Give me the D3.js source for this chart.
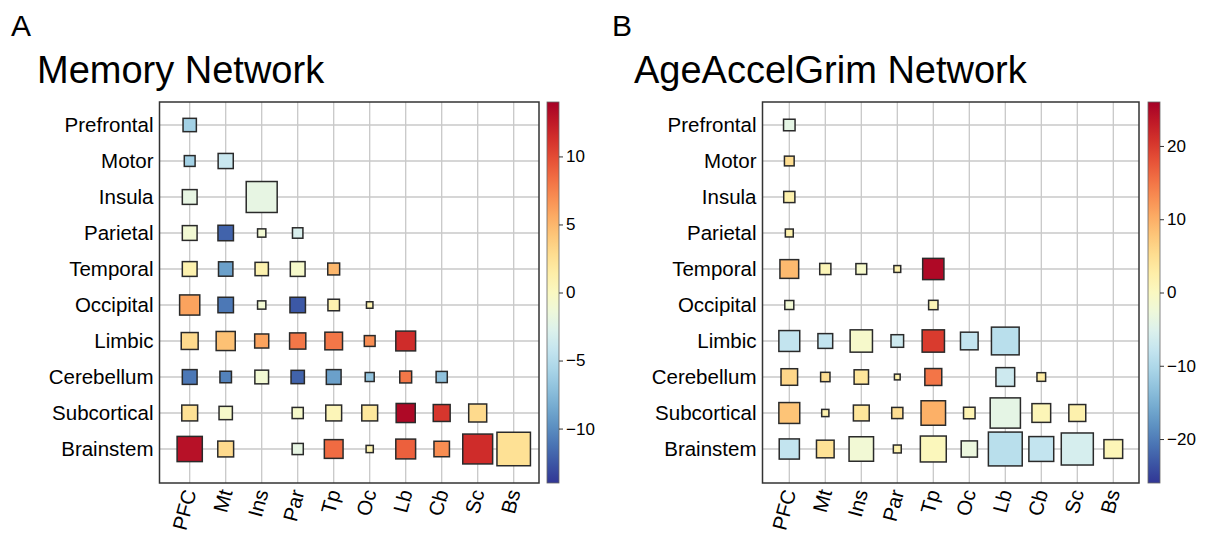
<!DOCTYPE html>
<html>
<head>
<meta charset="utf-8">
<script src="https://cdn.jsdelivr.net/npm/d3@7"></script>
<style>
  body { margin: 0; background: #fff; }
  svg { display: block; font-family: "Liberation Sans", Arial, Helvetica, sans-serif; }
</style>
</head>
<body>
<svg id="chart" width="1209" height="534"></svg>
<script>
// brain regions (rows) and their short names (columns)
var regions = ["Prefrontal", "Motor", "Insula", "Parietal", "Temporal",
               "Occipital", "Limbic", "Cerebellum", "Subcortical", "Brainstem"];
var regionAbbr = ["PFC", "Mt", "Ins", "Par", "Tp", "Oc", "Lb", "Cb", "Sc", "Bs"];

// Memory network: colour value per cell (lower triangle, null = no cell)
var memoryValues = [
  [-6],
  [-6, -4],
  [-2, null, -2],
  [-1, -12, -1, -3],
  [1, -9, 1, -0.5, 5],
  [6, -11, -1, -12.5, 1, 1],
  [3, 4.5, 6, 8, 8, 7, 11.5],
  [-11, -10.5, -1, -12, -9, -7, 8, -7],
  [2.5, -0.5, null, -0.5, 0.5, 2, 13.5, 11, 3],
  [13, 3, null, -2, 8.5, 1, 9, 7, 11.5, 2.5]
];
// Memory network: relative square size per cell
var memorySizes = [
  [0.37],
  [0.30, 0.42],
  [0.41, null, 0.86],
  [0.41, 0.43, 0.23, 0.29],
  [0.41, 0.40, 0.37, 0.41, 0.33],
  [0.56, 0.43, 0.23, 0.43, 0.32, 0.18],
  [0.47, 0.53, 0.39, 0.45, 0.49, 0.30, 0.55],
  [0.41, 0.32, 0.38, 0.37, 0.41, 0.25, 0.33, 0.31],
  [0.44, 0.37, null, 0.31, 0.44, 0.44, 0.53, 0.47, 0.50],
  [0.70, 0.44, null, 0.31, 0.52, 0.20, 0.55, 0.43, 0.83, 0.93]
];
var memoryTicks = [-10, -5, 0, 5, 10];
var memoryLimit = 14;

// AgeAccelGrim network
var grimValues = [
  [-4],
  [5],
  [2],
  [2],
  [9, 1, -1, 2, 25],
  [-2, null, null, null, 1],
  [-8, -8, -1, -7, 20, -8, -9],
  [6, 5, 4, 2, 15, null, -7, 3],
  [8, 2, 4, 5, 10, 1.5, -4, 1, 2],
  [-8, 4.5, -2, 2, 0.5, -3, -9, -8, -6, 1]
];
var grimSizes = [
  [0.32],
  [0.27],
  [0.31],
  [0.22],
  [0.52, 0.31, 0.30, 0.19, 0.59],
  [0.25, null, null, null, 0.26],
  [0.58, 0.41, 0.62, 0.35, 0.62, 0.49, 0.77],
  [0.46, 0.26, 0.40, 0.16, 0.47, null, 0.52, 0.24],
  [0.58, 0.20, 0.44, 0.31, 0.68, 0.32, 0.84, 0.52, 0.47],
  [0.56, 0.49, 0.68, 0.22, 0.72, 0.45, 0.94, 0.69, 0.89, 0.52]
];
var grimTicks = [-20, -10, 0, 10, 20];
var grimLimit = 26;

var svg = d3.select("#chart");

// flatten a triangle of values/sizes into cell records
function toCells(values, sizes) {
  var cells = [];
  for (var i = 0; i < values.length; i++) {
    for (var j = 0; j < values[i].length; j++) {
      if (values[i][j] === null) continue;
      cells.push({ row: i, col: j, value: values[i][j], size: sizes[i][j] });
    }
  }
  return cells;
}

function drawPanel(opt) {
  var g = svg.append("g");
  var cell = 36;

  var x = d3.scaleLinear().domain([0, regions.length - 1])
      .range([opt.firstCol, opt.firstCol + cell * (regions.length - 1)]);
  var y = d3.scaleLinear().domain([0, regions.length - 1])
      .range([opt.top + 23, opt.top + 23 + cell * (regions.length - 1)]);
  var side = d3.scaleLinear().domain([0, 1]).range([0, cell]);
  var color = d3.scaleDiverging(d3.interpolateRdYlBu)
      .domain([opt.limit, 0, -opt.limit]);

  // panel letter and title
  g.append("text").attr("x", opt.letterX).attr("y", 36)
      .attr("font-size", 30).text(opt.letter);
  g.append("text").attr("x", opt.titleX).attr("y", 83)
      .attr("font-size", 38).text(opt.title);

  // grid lines
  var idx = d3.range(regions.length);
  g.selectAll(".vgrid").data(idx).enter().append("line")
      .attr("x1", function(d) { return x(d); })
      .attr("x2", function(d) { return x(d); })
      .attr("y1", opt.top).attr("y2", opt.bottom)
      .attr("stroke", "#c8c8c8").attr("stroke-width", 1.3);
  g.selectAll(".hgrid").data(idx).enter().append("line")
      .attr("y1", function(d) { return y(d); })
      .attr("y2", function(d) { return y(d); })
      .attr("x1", opt.left).attr("x2", opt.right)
      .attr("stroke", "#c8c8c8").attr("stroke-width", 1.3);

  // squares
  g.selectAll("rect.cell").data(toCells(opt.values, opt.sizes)).enter().append("rect")
      .attr("class", "cell")
      .attr("x", function(d) { return x(d.col) - side(d.size) / 2; })
      .attr("y", function(d) { return y(d.row) - side(d.size) / 2; })
      .attr("width", function(d) { return side(d.size); })
      .attr("height", function(d) { return side(d.size); })
      .attr("fill", function(d) { return color(d.value); })
      .attr("stroke", "#2a2a2a").attr("stroke-width", 1.5);

  // frame
  g.append("rect").attr("x", opt.left).attr("y", opt.top)
      .attr("width", opt.right - opt.left).attr("height", opt.bottom - opt.top)
      .attr("fill", "none").attr("stroke", "#333").attr("stroke-width", 1.5);

  // row labels
  g.selectAll(".rowlab").data(regions).enter().append("text")
      .attr("x", opt.left - 6)
      .attr("y", function(d, i) { return y(i); })
      .attr("dy", "0.35em").attr("text-anchor", "end")
      .attr("font-size", 20.5).text(function(d) { return d; });

  // column labels
  g.selectAll(".collab").data(regionAbbr).enter().append("text")
      .attr("transform", function(d, i) { return "translate(" + x(i) + "," + (opt.bottom + 7) + ") rotate(-75)"; })
      .attr("dy", "0.35em").attr("text-anchor", "end")
      .attr("font-size", 20.5).text(function(d) { return d; });

  // colour bar
  var gradId = "grad-" + opt.letter;
  var grad = svg.append("defs").append("linearGradient")
      .attr("id", gradId).attr("x1", 0).attr("y1", 1).attr("x2", 0).attr("y2", 0);
  d3.range(0, 1.0001, 0.05).forEach(function(t) {
    grad.append("stop").attr("offset", t)
        .attr("stop-color", color(-opt.limit + t * 2 * opt.limit));
  });
  g.append("rect").attr("x", opt.barX).attr("y", opt.top)
      .attr("width", 12).attr("height", opt.bottom - opt.top)
      .attr("fill", "url(#" + gradId + ")")
      .attr("stroke", "#666").attr("stroke-width", 0.8);

  var barScale = d3.scaleLinear().domain([-opt.limit, opt.limit]).range([opt.bottom, opt.top]);
  var axis = g.append("g")
      .attr("transform", "translate(" + (opt.barX + 12) + ",0)")
      .call(d3.axisRight(barScale).tickValues(opt.ticks).tickSize(4).tickPadding(3));
  axis.select(".domain").remove();
  axis.selectAll("line").attr("stroke", "#333");
  axis.selectAll("text").attr("font-size", 17).attr("fill", "#000")
      .attr("font-family", "Liberation Sans, Arial, sans-serif");
}

drawPanel({
  letter: "A", letterX: 11, title: "Memory Network", titleX: 37,
  left: 159.5, right: 539, top: 102, bottom: 483, firstCol: 189.7,
  barX: 547, values: memoryValues, sizes: memorySizes,
  ticks: memoryTicks, limit: memoryLimit
});

drawPanel({
  letter: "B", letterX: 612, title: "AgeAccelGrim Network", titleX: 634,
  left: 762.5, right: 1139, top: 102, bottom: 483, firstCol: 789.3,
  barX: 1148, values: grimValues, sizes: grimSizes,
  ticks: grimTicks, limit: grimLimit
});
</script>
</body>
</html>
